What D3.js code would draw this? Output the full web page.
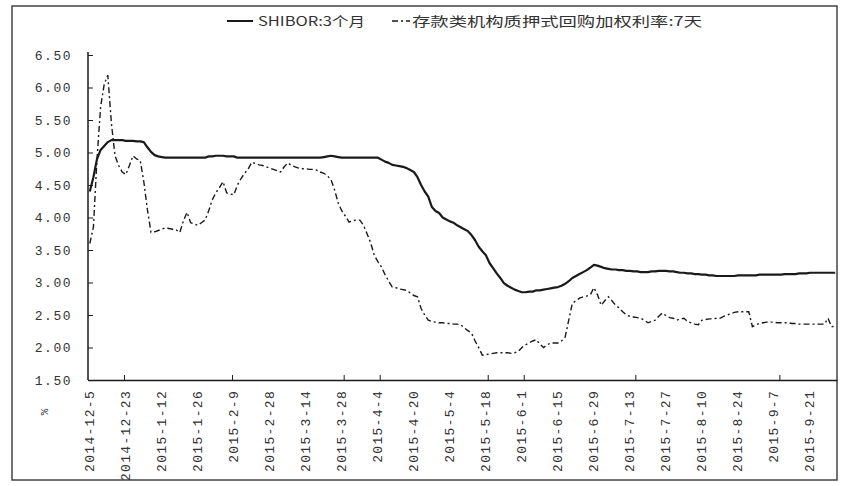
<!DOCTYPE html>
<html><head><meta charset="utf-8">
<script src="https://cdn.jsdelivr.net/npm/d3@7"></script>
<style>body{margin:0;background:#fff}</style>
</head><body><svg id="c" width="848" height="486"></svg>
<script>
const seriesNames = ["SHIBOR:3个月", "存款类机构质押式回购加权利率:7天"];
const xLabels = ["2014-12-5","2014-12-23","2015-1-12","2015-1-26","2015-2-9","2015-2-28","2015-3-14","2015-3-28","2015-4-4","2015-4-20","2015-5-4","2015-5-18","2015-6-1","2015-6-15","2015-6-29","2015-7-13","2015-7-27","2015-8-10","2015-8-24","2015-9-7","2015-9-21"];
const labelEvery = 10;
const tickIdx = [10,40,71,81,111,121,152,192];
const yTicks = [1.5,2,2.5,3,3.5,4,4.5,5,5.5,6,6.5];
const shibor3m = [
4.40,4.62,4.90,5.04,5.10,5.16,5.19,5.19,5.19,5.19,
5.18,5.18,5.18,5.17,5.17,5.16,5.08,5.01,4.96,4.94,
4.93,4.92,4.92,4.92,4.92,4.92,4.92,4.92,4.92,4.92,
4.92,4.92,4.92,4.94,4.94,4.95,4.95,4.95,4.94,4.94,
4.94,4.92,4.92,4.92,4.92,4.92,4.92,4.92,4.92,4.92,
4.92,4.92,4.92,4.92,4.92,4.92,4.92,4.92,4.92,4.92,
4.92,4.92,4.92,4.92,4.92,4.93,4.94,4.95,4.94,4.93,
4.92,4.92,4.92,4.92,4.92,4.92,4.92,4.92,4.92,4.92,
4.92,4.89,4.86,4.84,4.81,4.80,4.79,4.78,4.76,4.73,
4.70,4.62,4.50,4.40,4.32,4.16,4.10,4.07,4.00,3.97,
3.94,3.92,3.88,3.85,3.82,3.79,3.73,3.65,3.55,3.48,
3.42,3.30,3.22,3.14,3.07,2.99,2.95,2.92,2.89,2.87,
2.85,2.85,2.86,2.86,2.88,2.88,2.89,2.90,2.91,2.92,
2.93,2.95,2.98,3.02,3.07,3.10,3.13,3.16,3.19,3.23,
3.27,3.26,3.24,3.22,3.21,3.20,3.20,3.19,3.19,3.18,
3.18,3.17,3.17,3.16,3.16,3.16,3.17,3.17,3.18,3.18,
3.18,3.17,3.17,3.16,3.15,3.15,3.14,3.14,3.13,3.13,
3.12,3.12,3.11,3.11,3.10,3.10,3.10,3.10,3.10,3.10,
3.11,3.11,3.11,3.11,3.11,3.11,3.12,3.12,3.12,3.12,
3.12,3.12,3.12,3.13,3.13,3.13,3.13,3.14,3.14,3.14,
3.15,3.15,3.15,3.15,3.15,3.15,3.15,3.15];
const repo7d = [
3.60,3.85,4.90,5.70,6.05,6.19,5.45,4.95,4.80,4.70,
4.66,4.80,4.95,4.90,4.88,4.55,4.12,3.77,3.78,3.80,
3.82,3.84,3.83,3.82,3.81,3.77,3.95,4.08,3.92,3.90,
3.88,3.92,3.96,4.10,4.27,4.38,4.46,4.55,4.38,4.36,
4.35,4.50,4.60,4.68,4.75,4.85,4.83,4.81,4.80,4.78,
4.76,4.74,4.72,4.70,4.78,4.84,4.80,4.78,4.76,4.75,
4.75,4.74,4.74,4.73,4.70,4.68,4.64,4.58,4.42,4.22,
4.10,4.02,3.93,3.95,3.96,3.96,3.88,3.75,3.61,3.42,
3.32,3.24,3.12,3.02,2.93,2.92,2.90,2.89,2.88,2.84,
2.80,2.78,2.60,2.50,2.42,2.40,2.39,2.38,2.38,2.37,
2.37,2.36,2.36,2.35,2.30,2.26,2.22,2.10,2.00,1.88,
1.89,1.90,1.91,1.92,1.92,1.92,1.92,1.91,1.92,1.94,
2.00,2.04,2.07,2.10,2.12,2.05,2.00,2.04,2.07,2.07,
2.07,2.10,2.16,2.42,2.68,2.72,2.76,2.78,2.79,2.81,
2.92,2.81,2.65,2.72,2.78,2.72,2.65,2.61,2.55,2.50,
2.48,2.47,2.46,2.45,2.42,2.38,2.40,2.42,2.48,2.53,
2.49,2.46,2.45,2.42,2.44,2.45,2.40,2.38,2.36,2.35,
2.42,2.43,2.44,2.44,2.45,2.45,2.48,2.50,2.52,2.54,
2.55,2.55,2.55,2.55,2.32,2.35,2.37,2.38,2.39,2.39,
2.39,2.38,2.38,2.38,2.38,2.37,2.37,2.36,2.36,2.36,
2.36,2.36,2.36,2.36,2.36,2.45,2.32,2.33];

const svg = d3.select("#c");
const n = shibor3m.length;
const x = d3.scaleLinear().domain([-0.5, n - 0.5]).range([88, 837]);
const y = d3.scaleLinear().domain([1.5, 6.5]).range([380, 55]);
const ink = "#1a1a1a", txt = "#333";
const numFont = "'Liberation Mono', monospace";

// outer frame
svg.append("rect").attr("x",12).attr("y",6).attr("width",825).attr("height",474)
  .attr("fill","none").attr("stroke","#444").attr("stroke-width",1.5);

// y axis
const yAx = svg.append("g").attr("transform","translate(88,0)")
  .call(d3.axisLeft(y).tickValues(yTicks).tickFormat(d3.format(".2f")).tickSizeInner(-5).tickSizeOuter(0).tickPadding(16));
yAx.select(".domain").attr("stroke",ink).attr("stroke-width",1.5).attr("d","M0,52V380");
yAx.selectAll(".tick line").attr("stroke",ink);
yAx.selectAll("text").attr("font-family",numFont).attr("font-size",13).attr("letter-spacing",1.5).attr("fill",txt);

// x axis ticks (category boundaries)
const xAx = svg.append("g").attr("transform","translate(0,380)")
  .call(d3.axisBottom(x).tickValues(tickIdx.map(i => i - 0.5)).tickFormat("").tickSizeInner(-5).tickSizeOuter(0));
xAx.select(".domain").attr("stroke",ink).attr("stroke-width",1.5);
xAx.selectAll(".tick line").attr("stroke",ink);

// x labels
svg.append("g").selectAll("text").data(xLabels).join("text")
  .attr("transform",(d,i)=>`translate(${x(i*labelEvery)+4},390) rotate(-90)`)
  .attr("text-anchor","end")
  .attr("font-family",numFont).attr("font-size",13).attr("letter-spacing",1.3).attr("fill",txt)
  .text(d=>d);

// unit label
svg.append("text").attr("transform","translate(48,412) rotate(-90)")
  .attr("text-anchor","middle").attr("font-family",numFont).attr("font-size",11).attr("fill",txt).text("%");

// lines
const line = d3.line().x((d,i)=>x(i)).y(d=>y(d));
svg.append("path").datum(repo7d).attr("d",line).attr("fill","none")
  .attr("stroke",ink).attr("stroke-width",1.4).attr("stroke-dasharray","6,3,2,3");
svg.append("path").datum(shibor3m).attr("d",line).attr("fill","none")
  .attr("stroke",ink).attr("stroke-width",2.2).attr("stroke-linejoin","round");

// legend
const lg = svg.append("g");
lg.append("line").attr("x1",227).attr("x2",253).attr("y1",21).attr("y2",21).attr("stroke",ink).attr("stroke-width",2);
lg.append("text").attr("x",258).attr("y",26).attr("font-family","'Noto Sans CJK SC', sans-serif").attr("font-size",13)
  .attr("fill",txt).attr("textLength",107).attr("lengthAdjust","spacingAndGlyphs").text(seriesNames[0]);
lg.append("line").attr("x1",392).attr("x2",410).attr("y1",21).attr("y2",21).attr("stroke",ink).attr("stroke-width",1.4).attr("stroke-dasharray","6,3,2,3");
lg.append("text").attr("x",412).attr("y",26).attr("font-family","'Noto Sans CJK SC', sans-serif").attr("font-size",13)
  .attr("fill",txt).attr("textLength",290).attr("lengthAdjust","spacingAndGlyphs").text(seriesNames[1]);
</script></body></html>
